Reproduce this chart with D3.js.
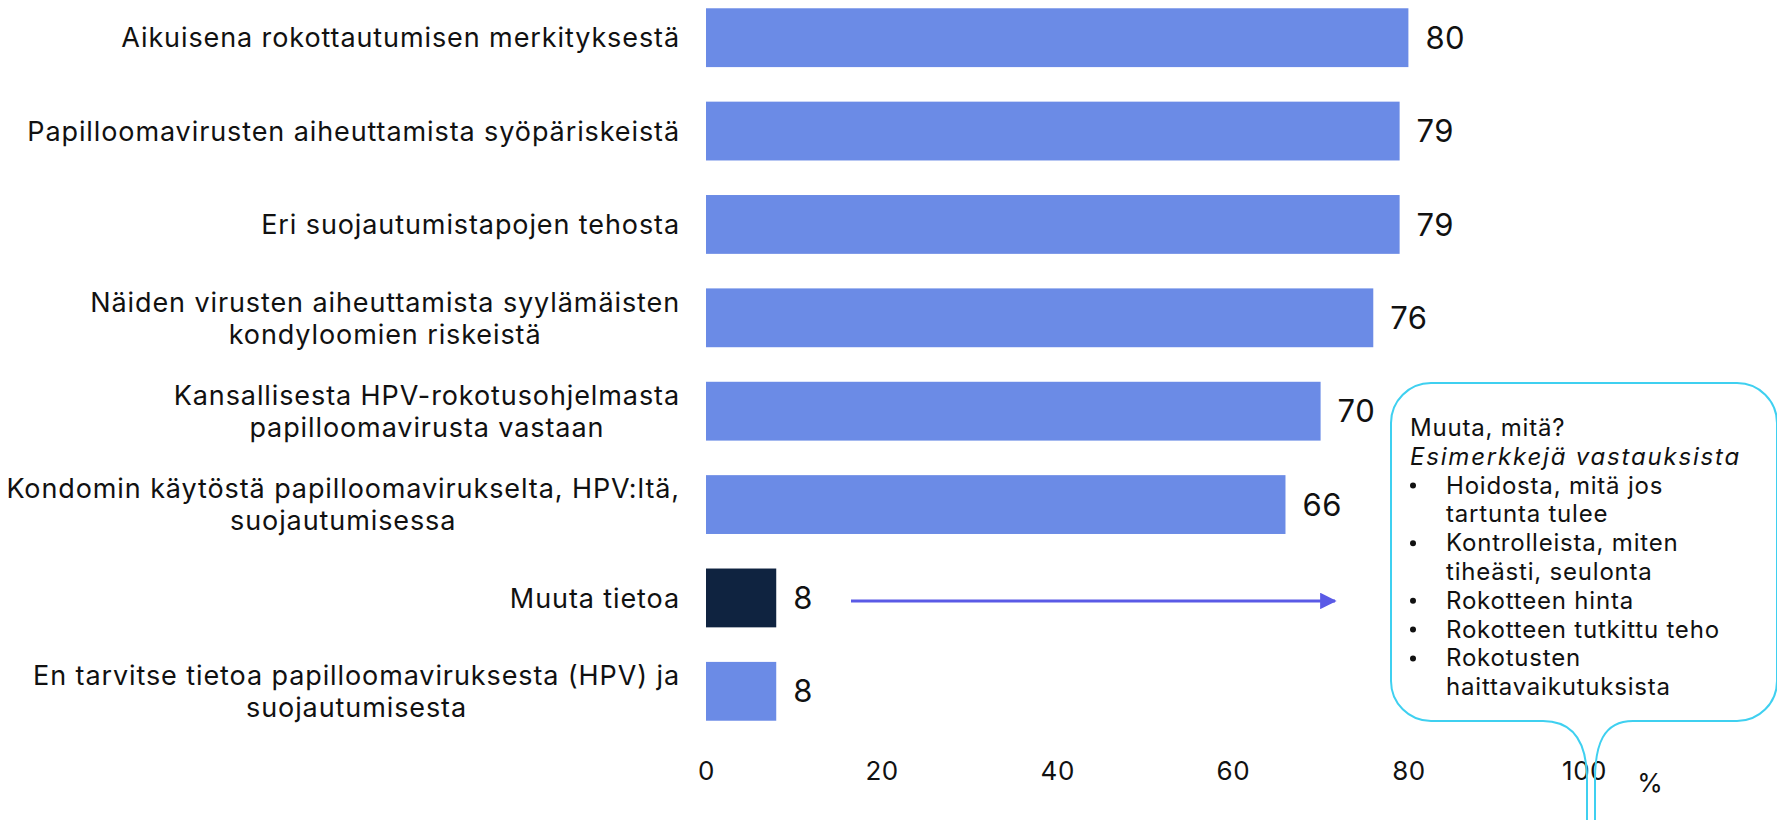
<!DOCTYPE html>
<html lang="fi">
<head>
    <meta charset="UTF-8">
    <title>HPV tiedon tarve</title>
    <script src="https://cdn.jsdelivr.net/npm/d3@7/dist/d3.min.js"></script>
    <style>
        html, body {
            margin: 0;
            padding: 0;
            background: #fff;
        }
        svg text {
            font-family: Inter, "Open Sans", sans-serif;
            fill: #111;
        }
    </style>
</head>
<body>
<div id="chart"></div>

<script>
    // kategoriat (rivitettynä kuten kuvassa)
    const categories = [
        ["Aikuisena rokottautumisen merkityksestä"],
        ["Papilloomavirusten aiheuttamista syöpäriskeistä"],
        ["Eri suojautumistapojen tehosta"],
        ["Näiden virusten aiheuttamista syylämäisten", "kondyloomien riskeistä"],
        ["Kansallisesta HPV-rokotusohjelmasta", "papilloomavirusta vastaan"],
        ["Kondomin käytöstä papilloomavirukselta, HPV:ltä,", "suojautumisessa"],
        ["Muuta tietoa"],
        ["En tarvitse tietoa papilloomaviruksesta (HPV) ja", "suojautumisesta"]
    ];
    const values = [80, 79, 79, 76, 70, 66, 8, 8];
    const highlighted = "Muuta tietoa";
    const tickValues = [0, 20, 40, 60, 80, 100];

    const calloutTitle = "Muuta, mitä?";
    const calloutSubtitle = "Esimerkkejä vastauksista";
    const calloutItems = [
        ["Hoidosta, mitä jos", "tartunta tulee"],
        ["Kontrolleista, miten", "tiheästi, seulonta"],
        ["Rokotteen hinta"],
        ["Rokotteen tutkittu teho"],
        ["Rokotusten", "haittavaikutuksista"]
    ];

    const width = 1777, height = 820;
    const barColor = "#6b8be6", darkColor = "#0f2340";

    const data = categories.map((lines, i) => ({key: lines.join(" "), lines: lines, value: values[i]}));

    const svg = d3.select("#chart").append("svg")
        .attr("width", width)
        .attr("height", height);

    const x = d3.scaleLinear().domain([0, 100]).range([706, 1584]);
    const y = d3.scaleBand()
        .domain(data.map(d => d.key))
        .range([-9, 738])
        .paddingInner(0.37)
        .paddingOuter(0.185);

    // palkit
    svg.append("g").selectAll("rect")
        .data(data)
        .enter().append("rect")
        .attr("x", x(0))
        .attr("y", d => y(d.key))
        .attr("width", d => x(d.value) - x(0))
        .attr("height", y.bandwidth())
        .attr("fill", d => d.key === highlighted ? darkColor : barColor);

    // arvot
    svg.append("g").selectAll("text")
        .data(data)
        .enter().append("text")
        .attr("x", d => x(d.value) + 17)
        .attr("y", d => y(d.key) + y.bandwidth() / 2)
        .attr("dy", "0.36em")
        .style("font-size", "31px")
        .style("letter-spacing", "0.5px")
        .text(d => d.value);

    // kategorioiden nimet, oikealle tasattu lohko, rivit keskitetty
    const labelRight = 680, lineH = 32;
    const labels = svg.append("g").selectAll("text")
        .data(data)
        .enter().append("text")
        .style("font-size", "27px")
        .style("letter-spacing", "0.9px")
        .attr("text-anchor", "middle");

    labels.each(function (d) {
        const t = d3.select(this);
        const cy = y(d.key) + y.bandwidth() / 2;
        const n = d.lines.length;
        d.lines.forEach((line, i) => {
            t.append("tspan")
                .attr("y", cy + (i - (n - 1) / 2) * lineH)
                .attr("dy", "0.36em")
                .text(line);
        });
        let w = 0;
        t.selectAll("tspan").each(function () {
            w = Math.max(w, this.getComputedTextLength());
        });
        t.selectAll("tspan").attr("x", labelRight - w / 2);
    });

    // x-akseli
    const axis = svg.append("g")
        .attr("transform", "translate(0,755)")
        .call(d3.axisBottom(x).tickValues(tickValues).tickSize(0).tickPadding(7));
    axis.select(".domain").remove();
    axis.selectAll("text")
        .style("font-size", "26px")
        .style("letter-spacing", "0.5px")
        .attr("fill", "#111");

    svg.append("text")
        .attr("x", 1650)
        .attr("y", 792)
        .attr("text-anchor", "middle")
        .style("font-size", "26px")
        .text("%");

    // nuoli "Muuta tietoa" -palkista selitelaatikkoon
    svg.append("defs").append("marker")
        .attr("id", "arrow")
        .attr("viewBox", "0 0 10 10")
        .attr("refX", 9)
        .attr("refY", 5)
        .attr("markerWidth", 5.5)
        .attr("markerHeight", 5.5)
        .attr("markerUnits", "strokeWidth")
        .attr("orient", "auto")
        .append("path")
        .attr("d", "M0,0 L10,5 L0,10 Z")
        .attr("fill", "#5a5ae6");

    const arrowY = y(highlighted) + y.bandwidth() / 2 + 3;
    svg.append("line")
        .attr("x1", 851)
        .attr("x2", 1335)
        .attr("y1", arrowY)
        .attr("y2", arrowY)
        .attr("stroke", "#5a5ae6")
        .attr("stroke-width", 3)
        .attr("marker-end", "url(#arrow)");

    // selitelaatikko, häntä jatkuu kuvan alareunan yli
    const L = 1391, T = 383, R = 1777, B = 721, r = 40;
    const bubble = d3.path();
    bubble.moveTo(1587, 830);
    bubble.lineTo(1587, 780);
    bubble.bezierCurveTo(1587, 745, 1575, B, 1543, B);
    bubble.lineTo(L + r, B);
    bubble.arcTo(L, B, L, B - r, r);
    bubble.lineTo(L, T + r);
    bubble.arcTo(L, T, L + r, T, r);
    bubble.lineTo(R - r, T);
    bubble.arcTo(R, T, R, T + r, r);
    bubble.lineTo(R, B - r);
    bubble.arcTo(R, B, R - r, B, r);
    bubble.lineTo(1633, B);
    bubble.bezierCurveTo(1603, B, 1595, 745, 1595, 780);
    bubble.lineTo(1595, 830);

    svg.append("path")
        .attr("d", bubble.toString())
        .attr("fill", "none")
        .attr("stroke", "#3fd0f0")
        .attr("stroke-width", 2);

    const calloutLines = [
        {text: calloutTitle, italic: false, bullet: false, first: false},
        {text: calloutSubtitle, italic: true, bullet: false, first: false}
    ];
    calloutItems.forEach(item => item.forEach((t, i) =>
        calloutLines.push({text: t, italic: false, bullet: true, first: i === 0})));

    const cg = svg.append("g").style("font-size", "24px");
    calloutLines.forEach((d, i) => {
        const by = 436 + i * 28.8;
        cg.append("text")
            .attr("x", d.bullet ? 1446 : 1410)
            .attr("y", by)
            .style("font-style", d.italic ? "italic" : "normal")
            .style("letter-spacing", d.italic ? "1.8px" : "0.8px")
            .text(d.text);
        if (d.first) {
            cg.append("circle")
                .attr("cx", 1413)
                .attr("cy", by - 8)
                .attr("r", 3)
                .attr("fill", "#111");
        }
    });
</script>
</body>
</html>
